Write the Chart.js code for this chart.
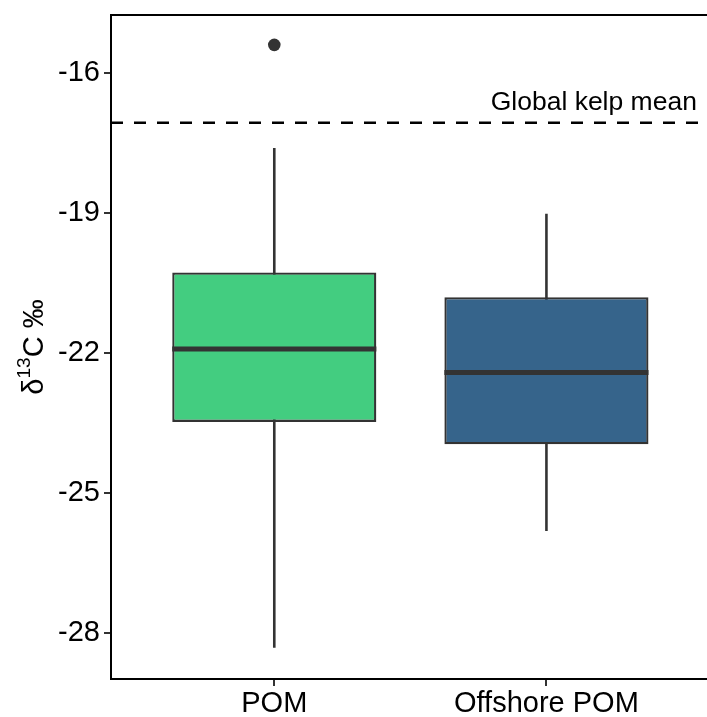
<!DOCTYPE html>
<html>
<head>
<meta charset="utf-8">
<script src="https://cdn.jsdelivr.net/npm/chart.js@4.4.1/dist/chart.umd.min.js"></script>
<style>
  html, body { margin: 0; padding: 0; background: #fff; overflow: hidden; }
  #wrap { width: 707px; height: 717px; overflow: hidden; }
  canvas { display: block; }
</style>
</head>
<body>
<div id="wrap"><canvas id="boxChart" width="707" height="717"></canvas></div>
<script>
// Data
const categories = ['POM', 'Offshore POM'];
const whiskerLow = [-28.31, -25.81];
const lowerQuartile = [-23.47, -23.95];
const medians = [-21.91, -22.41];
const upperQuartile = [-20.27, -20.80];
const whiskerHigh = [-17.60, -19.01];
const outliers = [[-15.39], []];
const boxColors = ['#43CD80', '#36648B'];

const kelpMean = -17.06;
const kelpLabel = 'Global kelp mean';
const yTicks = [-28, -25, -22, -19, -16];

// the panel runs a little past the right edge of the picture
const yMin = -28.98, yMax = -14.75;
const xMin = 0.4, xMax = 2.590;
const boxHalf = 0.375;
const FONT = '"Liberation Sans", Arial, Helvetica, sans-serif';

Chart.defaults.font.family = FONT;
Chart.defaults.color = '#000';

const datasets = [];

// whiskers (drawn underneath the boxes)
categories.forEach((c, i) => {
    datasets.push({
        type: 'line',
        data: [{ x: i + 1, y: whiskerLow[i] }, { x: i + 1, y: whiskerHigh[i] }],
        borderColor: '#333333',
        borderWidth: 2.6,
        pointRadius: 0,
        order: 3
    });
});

// boxes as floating bars
datasets.push({
    type: 'bar',
    data: categories.map((c, i) => ({ x: i + 1, y: [lowerQuartile[i], upperQuartile[i]] })),
    backgroundColor: boxColors,
    borderColor: '#333333',
    borderWidth: 2.3,
    borderSkipped: false,
    barPercentage: 0.75,
    categoryPercentage: 1,
    order: 2
});

// medians
categories.forEach((c, i) => {
    datasets.push({
        type: 'line',
        data: [{ x: i + 1 - boxHalf, y: medians[i] }, { x: i + 1 + boxHalf, y: medians[i] }],
        borderColor: '#333333',
        borderWidth: 5,
        pointRadius: 0,
        order: 1
    });
});

// outliers
datasets.push({
    type: 'scatter',
    data: outliers.flatMap((vals, i) => vals.map(v => ({ x: i + 1, y: v }))),
    backgroundColor: '#333333',
    borderWidth: 0,
    pointRadius: 6.3,
    order: 1
});

// global kelp mean reference line
datasets.push({
    type: 'line',
    data: [{ x: xMin, y: kelpMean }, { x: xMax, y: kelpMean }],
    borderColor: '#000000',
    borderWidth: 2.6,
    borderDash: [12, 11],
    pointRadius: 0,
    order: 0
});

// extra drawing: top frame line, annotation, y title with superscript
const extras = {
    id: 'extras',
    afterDraw(chart) {
        const { ctx, chartArea, scales: { x, y } } = chart;
        ctx.save();
        ctx.strokeStyle = '#000';
        ctx.lineWidth = 2;
        ctx.beginPath();
        ctx.moveTo(chartArea.left - 1, chartArea.top);
        ctx.lineTo(chartArea.right, chartArea.top);
        ctx.stroke();

        ctx.fillStyle = '#000';
        ctx.font = '26.5px ' + FONT;
        ctx.textAlign = 'center';
        ctx.textBaseline = 'alphabetic';
        ctx.fillText(kelpLabel, x.getPixelForValue(2.174), y.getPixelForValue(-16.79));

        // y axis title: δ13C ‰
        const big = '29px ' + FONT, small = '19px ' + FONT;
        ctx.font = big; const w1 = ctx.measureText('δ').width;
        ctx.font = small; const w2 = ctx.measureText('13').width;
        ctx.font = big; const w3 = ctx.measureText('C ‰').width;
        const total = w1 + w2 + w3;
        ctx.translate(43, (chartArea.top + chartArea.bottom) / 2);
        ctx.rotate(-Math.PI / 2);
        ctx.textAlign = 'left';
        let pos = -total / 2;
        ctx.font = big; ctx.fillText('δ', pos, 0); pos += w1;
        ctx.font = small; ctx.fillText('13', pos, -13); pos += w2;
        ctx.font = big; ctx.fillText('C ‰', pos, 0);
        ctx.restore();
    }
};

new Chart(document.getElementById('boxChart'), {
    type: 'bar',
    data: { datasets },
    plugins: [extras],
    options: {
        responsive: false,
        animation: false,
        layout: { autoPadding: false, padding: { top: 15, right: -2, bottom: 0, left: 0 } },
        plugins: { legend: { display: false }, tooltip: { enabled: false } },
        scales: {
            x: {
                type: 'linear',
                min: xMin,
                max: xMax,
                offset: false,
                afterBuildTicks: s => { s.ticks = categories.map((c, i) => ({ value: i + 1 })); },
                afterFit: s => { s.height = 38; s.paddingLeft = 0; s.paddingRight = 0; },
                ticks: {
                    callback: (v, i) => categories[i],
                    font: { size: 29 },
                    color: '#000',
                    padding: 1,
                    maxRotation: 0
                },
                grid: { display: true, offset: false, drawOnChartArea: false, tickLength: 7, color: '#333333', lineWidth: 2 },
                border: { display: true, color: '#000', width: 2 }
            },
            y: {
                type: 'linear',
                min: yMin,
                max: yMax,
                afterBuildTicks: s => { s.ticks = yTicks.map(v => ({ value: v })); },
                afterFit: s => { s.width = 111; s.paddingTop = 0; s.paddingBottom = 0; },
                ticks: {
                    callback: v => String(v),
                    font: { size: 29 },
                    color: '#000',
                    padding: 4
                },
                grid: { display: true, drawOnChartArea: false, tickLength: 7, color: '#333333', lineWidth: 2 },
                border: { display: true, color: '#000', width: 2 }
            }
        }
    }
});
</script>
</body>
</html>
